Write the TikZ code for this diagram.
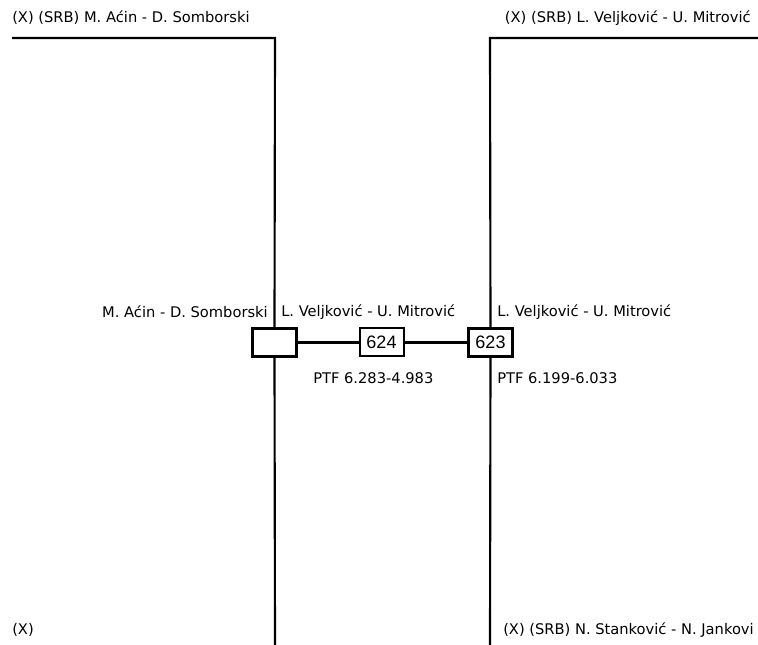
\documentclass[tikz,border=0pt]{standalone}
\usepackage{fontspec}
\setmainfont{DejaVu Sans}
\newfontfamily\numfont{Liberation Sans}
\begin{document}
\begin{tikzpicture}[x=0.75pt, y=-0.75pt,
    line/.style={line width=1.6pt},
    pair/.style={font=\fontsize{11pt}{13pt}\selectfont, inner sep=0pt},
    match/.style={draw, line width=1.5pt, fill=white, minimum width=33pt, minimum height=21pt, inner sep=0pt, font=\numfont\fontsize{13.5pt}{15pt}\selectfont},
    matchw/.style={match, line width=2.2pt}]
  \useasboundingbox (0,0) rectangle (758,645);
  % ulazne linije
  \coordinate (tlA) at (12,38);
  \coordinate (tlB) at (275,38);
  \coordinate (blB) at (275,645);
  \coordinate (trA) at (758,38);
  \coordinate (trB) at (490,38);
  \coordinate (brB) at (490,645);
  % kutije mečeva
  \node[matchw] (m0) at (274.5,342.5) {};
  \node[match] (m624) at (381.5,342.5) {624};
  \node[matchw] (m623) at (490.5,342.5) {623};
  % linije
  \draw[line] (tlA) -- (tlB) -- (m0.north);
  \draw[line] (m0.south) -- (blB);
  \draw[line] (trA) -- (trB) -- (m623.north);
  \draw[line] (m623.south) -- (brB);
  \draw[line] (m0.east) -- (m624.west);
  \draw[line] (m624.east) -- (m623.west);
  % imena parova
  \node[pair, anchor=west] (t1) at (12,18) {(X) (SRB) M. Aćin - D. Somborski};
  \node[pair, anchor=east] (t2) at (751,18) {(X) (SRB) L. Veljković - U. Mitrović};
  \node[pair, anchor=west] (t3) at (12,630) {(X)};
  \node[pair, anchor=west] (t4) at (503,630) {(X) (SRB) N. Stanković - N. Jankovi};
  \node[pair, anchor=east] (w0) at (268,312) {M. Aćin - D. Somborski};
  \node[pair, anchor=west] (w624) at (281,312) {L. Veljković - U. Mitrović};
  \node[pair, anchor=west] (w623) at (497,312) {L. Veljković - U. Mitrović};
  \node[pair, anchor=west] (r624) at (313,378) {PTF 6.283-4.983};
  \node[pair, anchor=west] (r623) at (497,378) {PTF 6.199-6.033};
\end{tikzpicture}
\end{document}
